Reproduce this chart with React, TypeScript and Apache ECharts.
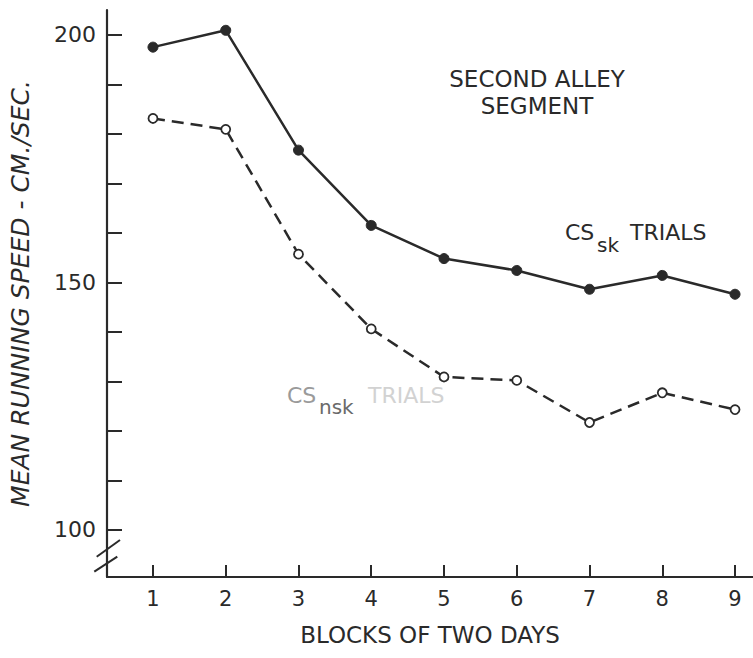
import React, { useEffect, useRef } from "react";
import * as echarts from "echarts";

// Blocks of two days (x categories)
const blocks = [1, 2, 3, 4, 5, 6, 7, 8, 9];
// CS_sk trials (solid line, filled circles)
const csSk = [197.5, 200.9, 176.7, 161.5, 154.8, 152.4, 148.6, 151.4, 147.6];
// CS_nsk trials (dashed line, open circles)
const csNsk = [183.1, 180.9, 155.7, 140.6, 130.9, 130.2, 121.7, 127.7, 124.3];
// Y-axis ticks and labels
const yTicks = [100, 110, 120, 130, 140, 150, 160, 170, 180, 190, 200];
const yLabels = [100, 150, 200];

const INK = "#2a2a2a";
const FONT = "DejaVu Sans";

export default function App() {
  const ref = useRef<HTMLDivElement>(null);

  useEffect(() => {
    if (!ref.current) return;
    const chart = echarts.init(ref.current, undefined, { renderer: "svg" });
    const textStyle = (x: number, y: number, text: string, size: number, color: string, align = "left") => ({
      type: "text",
      x,
      y,
      style: {
        text,
        fontFamily: FONT,
        fontSize: size,
        fill: color,
        align,
        verticalAlign: "middle",
      },
    });
    chart.setOption({
      animation: false,
      backgroundColor: "#ffffff",
      grid: { left: 107, right: 0, top: 10, bottom: 81, containLabel: false },
      xAxis: {
        type: "value",
        min: 0.368,
        max: 9.247,
        name: "BLOCKS OF TWO DAYS",
        nameLocation: "middle",
        nameGap: 46,
        nameTextStyle: { fontFamily: FONT, fontSize: 23, color: INK },
        axisLine: { show: true, onZero: false, lineStyle: { color: INK, width: 2.2 } },
        axisTick: { show: true, inside: true, length: 12, customValues: blocks, lineStyle: { color: INK, width: 2 } },
        axisLabel: { customValues: blocks, margin: 11, fontFamily: FONT, fontSize: 21, color: INK },
        splitLine: { show: false },
      },
      yAxis: {
        type: "value",
        min: 90.5,
        max: 205,
        name: "MEAN RUNNING SPEED - CM./SEC.",
        nameLocation: "middle",
        nameGap: 74,
        nameTextStyle: { fontFamily: FONT, fontSize: 25, fontStyle: "italic", color: INK },
        axisLine: { show: true, onZero: false, lineStyle: { color: INK, width: 2.2 } },
        axisTick: { show: true, inside: true, length: 15, customValues: yTicks, lineStyle: { color: INK, width: 2 } },
        axisLabel: { customValues: yLabels, margin: 11, fontFamily: FONT, fontSize: 22, color: INK },
        splitLine: { show: false },
      },
      series: [
        {
          name: "CS sk TRIALS",
          type: "line",
          data: blocks.map((b, i) => [b, csSk[i]]),
          symbol: "circle",
          symbolSize: 10,
          lineStyle: { color: INK, width: 2.5 },
          itemStyle: { color: INK, borderColor: INK, borderWidth: 1 },
          z: 3,
        },
        {
          name: "CS nsk TRIALS",
          type: "line",
          data: blocks.map((b, i) => [b, csNsk[i]]),
          symbol: "circle",
          symbolSize: 9,
          lineStyle: { color: INK, width: 2.5, type: [12, 7] },
          itemStyle: { color: "#ffffff", borderColor: INK, borderWidth: 1.8 },
          z: 3,
        },
      ],
      graphic: [
        textStyle(537, 79, "SECOND ALLEY", 23, INK, "center"),
        textStyle(537, 105.5, "SEGMENT", 23, INK, "center"),
        textStyle(565, 232.5, "CS", 22, INK),
        textStyle(597, 245, "sk", 20, INK),
        textStyle(630, 232.5, "TRIALS", 22, INK),
        textStyle(287, 395, "CS", 22, "#9a9a9a"),
        textStyle(319, 407, "nsk", 20, "#6a6a6a"),
        textStyle(368, 395, "TRIALS", 22, "#d2d2d2"),
        {
          type: "line",
          shape: { x1: 96.7, y1: 556.7, x2: 120, y2: 540 },
          style: { stroke: INK, lineWidth: 2 },
        },
        {
          type: "line",
          shape: { x1: 94.3, y1: 571.7, x2: 117.3, y2: 556.7 },
          style: { stroke: INK, lineWidth: 2 },
        },
      ],
    });
    return () => chart.dispose();
  }, []);

  return (
    <div
      ref={ref}
      style={{ position: "fixed", left: 0, top: 0, width: 753, height: 658 }}
    />
  );
}
